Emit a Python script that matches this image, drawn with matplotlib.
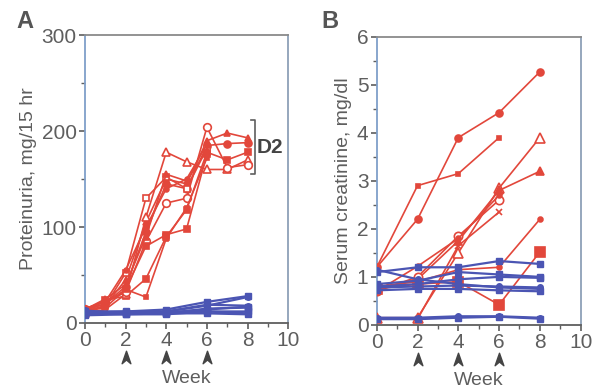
import matplotlib
matplotlib.use("Agg")
import matplotlib.pyplot as plt
from matplotlib.path import Path
import matplotlib.transforms as mtransforms

# ---------------- data ----------------
weeks_a = [0, 1, 2, 3, 4, 5, 6, 7, 8]
weeks_b = [0, 2, 4, 6, 8]

# Panel A red (proteinuria, D2 group)
red_a_1 = [12, 18, 45, 105, 150, 145, 190, 198, 193]
red_a_2 = [14, 20, 38, 95, 145, 140, 185, 187, 188]
red_a_3 = [12, 24, 28, 46, 90, 118, 178, 170, 178]
red_a_4 = [10, 14, 30, 110, 178, 168, 160, 160, 170]
red_a_5 = [15, 22, 32, 85, 125, 130, 204, 162, 165]
red_a_6 = [12, 18, 52, 130, 152, 140, 182]
red_a_7 = [15, 22, 55, 100, 140, 150, 186]
red_a_8 = [13, 20, 35, 80, 92, 98, 176]
red_a_9 = [12, 16, 35, 27, 88, 120, 172]
red_a_10 = [14, 25, 40, 90, 155, 148, 180]

# Panel A blue (controls)
blue_a_1 = [12, 12, 14, 22, 28]
blue_a_2 = [10, 11, 12, 19, 18]
blue_a_3 = [9, 10, 10, 15, 16]
blue_a_4 = [8, 9, 9, 12, 12]
blue_a_5 = [11, 12, 11, 12, 10]
blue_a_6 = [10, 9, 10, 10, 9]
blue_a_7 = [13, 10, 12, 18, 27]
blue_a_8 = [9, 11, 11, 14, 17]

# Panel B red (serum creatinine)
red_b_1 = [1.2, 2.2, 3.9, 4.42, 5.27]
red_b_2 = [1.2, 2.9, 3.15, 3.9]
red_b_3 = [0.15, 0.15, 1.5, 2.85, 3.9]
red_b_4 = [0.75, 0.95, 1.75, 2.8, 3.2]
red_b_5 = [0.7, 1.0, 1.85, 2.6]
red_b_6 = [0.12, 0.12, 1.65, 2.35]
red_b_7 = [0.8, 0.9, 1.15, 1.2, 2.2]
red_b_8 = [0.75, 0.85, 0.9, 0.42, 1.52]
red_b_9 = [0.7, 1.22, 1.8, 2.7]

# Panel B blue
blue_b_1 = [1.1, 1.2, 1.2, 1.33, 1.27]
blue_b_2 = [1.15, 0.95, 0.85, 0.78, 0.75]
blue_b_3 = [0.85, 0.92, 1.1, 1.05, 1.0]
blue_b_4 = [0.8, 0.85, 0.95, 1.0, 0.98]
blue_b_5 = [0.78, 0.8, 0.82, 0.8, 0.78]
blue_b_6 = [0.72, 0.75, 0.75, 0.72, 0.7]
blue_b_7 = [0.15, 0.15, 0.18, 0.18, 0.15]
blue_b_8 = [0.12, 0.12, 0.15, 0.17, 0.13]

injection_weeks = [2, 4, 6]

RED = "#e2473b"
BLUE = "#4b55b3"
GRAY = "#5e5e5e"

plt.rcParams['font.family'] = ['Liberation Sans', 'DejaVu Sans']

fig = plt.figure(figsize=(5.98, 3.91), dpi=100)
axA = fig.add_axes([0.142, 0.174, 0.340, 0.736])
axB = fig.add_axes([0.630, 0.169, 0.341, 0.737])

red_styles_a = [
    (red_a_1, '^', True, 5), (red_a_2, 'o', True, 5), (red_a_3, 's', True, 5),
    (red_a_4, '^', False, 6), (red_a_5, 'o', False, 5.5), (red_a_6, 's', False, 5),
    (red_a_7, 'o', True, 3.5), (red_a_8, 's', True, 4), (red_a_9, 's', True, 3.5),
    (red_a_10, '^', True, 4),
]
blue_a = [blue_a_1, blue_a_2, blue_a_3, blue_a_4, blue_a_5, blue_a_6, blue_a_7, blue_a_8]
blue_marks = ['s', 'o', 's', 's', 'o', 's', 'o', 's']

red_styles_b = [
    (red_b_1, 'o', True, 5), (red_b_2, 's', True, 3.5), (red_b_3, '^', False, 7),
    (red_b_4, '^', True, 6), (red_b_5, 'o', False, 6), (red_b_6, 'x', True, 4),
    (red_b_7, 'o', True, 3.5), (red_b_8, 's', True, 6.5), (red_b_9, 'o', True, 3.5),
]
blue_b = [blue_b_1, blue_b_2, blue_b_3, blue_b_4, blue_b_5, blue_b_6, blue_b_7, blue_b_8]


def draw_red(ax, weeks, styles):
    for vals, m, filled, ms in styles:
        ax.plot(weeks[:len(vals)], vals, color=RED, lw=1.2, marker=m, ms=ms,
                mfc=RED if filled else 'white', mec=RED, mew=1.2, zorder=3)


def draw_blue(ax, weeks, series):
    for vals, m in zip(series, blue_marks):
        ax.plot(weeks[:len(vals)], vals, color=BLUE, lw=1.6, marker=m, ms=4,
                mfc=BLUE, mec=BLUE, zorder=4)


draw_blue(axA, weeks_b, blue_a)
draw_red(axA, weeks_a, red_styles_a)
draw_blue(axB, weeks_b, blue_b)
draw_red(axB, weeks_b, red_styles_b)

# arrowhead marker
arrow_path = Path([(0, 1), (0.7, -1), (0, -0.4), (-0.7, -1), (0, 1)],
                  [Path.MOVETO, Path.LINETO, Path.LINETO, Path.LINETO, Path.CLOSEPOLY])


def style_axes(ax, ymax, ymajor, yminor, ylabel):
    ax.set_xlim(0, 10)
    ax.set_ylim(0, ymax)
    ax.set_xticks(range(0, 11, 2))
    ax.set_xticks(range(1, 11, 2), minor=True)
    ax.set_yticks(ymajor)
    ax.set_yticks(yminor, minor=True)
    ax.tick_params(axis='both', which='major', direction='out', length=4,
                   width=1.2, color=GRAY, labelcolor=GRAY, labelsize=15, pad=2)
    ax.tick_params(axis='both', which='minor', direction='out', length=3,
                   width=1.0, color=GRAY)
    ax.spines['left'].set_color("#7f9fc9")
    ax.spines['right'].set_color("#8ea0b8")
    ax.spines['top'].set_color("#8a8a8a")
    ax.spines['bottom'].set_color(GRAY)
    for s in ax.spines.values():
        s.set_linewidth(1.3)
    ax.set_ylabel(ylabel, color=GRAY, fontsize=14, labelpad=3)
    ax.set_xlabel("Week", color=GRAY, fontsize=14, labelpad=14)
    trans = mtransforms.blended_transform_factory(ax.transData, ax.transAxes)
    ax.plot(injection_weeks, [-0.118] * len(injection_weeks), linestyle='none',
            marker=arrow_path, ms=9, color="#444444", transform=trans, clip_on=False)


style_axes(axA, 300, [0, 100, 200, 300], [50, 150, 250], "Proteinuria, mg/15 hr")
style_axes(axB, 6, range(0, 7), [0.5, 1.5, 2.5, 3.5, 4.5, 5.5], "Serum creatinine, mg/dl")

# D2 bracket
axA.plot([8.15, 8.35, 8.35, 8.15], [212, 212, 155, 155], color=GRAY, lw=1.2, clip_on=False)
axA.text(8.45, 183, "D2", fontsize=15, fontweight='bold', color="#444444",
         va='center', ha='left')

fig.text(0.028, 0.945, "A", fontsize=17, fontweight='bold', color="#555555", va='center')
fig.text(0.538, 0.945, "B", fontsize=17, fontweight='bold', color="#555555", va='center')

fig.savefig("out.png", dpi=100)
